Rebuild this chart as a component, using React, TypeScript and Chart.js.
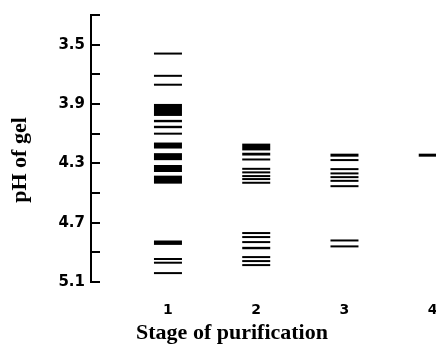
import React, { useEffect, useRef } from "react";
import { Chart, registerables } from "chart.js";

Chart.register(...registerables);

// ---- data ----
const stages = [1, 2, 3, 4];
const stageLabels = ["1", "2", "3", "4"];
const yTickValues = [3.3, 3.5, 3.7, 3.9, 4.1, 4.3, 4.5, 4.7, 4.9, 5.1];
const yLabeledTicks = [3.5, 3.9, 4.3, 4.7, 5.1];

// band positions (pH) and relative band intensity, per stage
const stage1Ph = [3.56, 3.71, 3.77, 3.94, 4.015, 4.055, 4.1, 4.18, 4.255, 4.335, 4.41, 4.835, 4.945, 4.97, 5.04];
const stage1Intensity = [1, 1, 1, 6, 1.2, 1.2, 1, 3, 3.5, 3.5, 4, 2.2, 1, 1, 1];

const stage2Ph = [4.19, 4.238, 4.274, 4.337, 4.361, 4.386, 4.406, 4.431, 4.77, 4.797, 4.831, 4.871, 4.932, 4.959, 4.986];
const stage2Intensity = [3.4, 1.4, 1, 1, 1, 1, 1, 1, 1, 1, 1, 1.2, 1, 1, 1];

const stage3Ph = [4.245, 4.278, 4.339, 4.368, 4.393, 4.418, 4.454, 4.82, 4.86];
const stage3Intensity = [1.5, 1, 1, 1, 1, 1, 1, 1, 1];

const stage4Ph = [4.245];
const stage4Intensity = [1.5];

const stagePh = [stage1Ph, stage2Ph, stage3Ph, stage4Ph];
const stageIntensity = [stage1Intensity, stage2Intensity, stage3Intensity, stage4Intensity];

const xTitle = "Stage of purification";
const yTitle = "pH of gel";

export default function App() {
  const canvasRef = useRef<HTMLCanvasElement | null>(null);

  useEffect(() => {
    const canvas = canvasRef.current;
    if (!canvas) return;

    const innerTicks = {
      id: "innerTicks",
      afterDraw(chart: any) {
        const ctx = chart.ctx;
        const ys = chart.scales.y;
        ctx.save();
        ctx.strokeStyle = "#000";
        ctx.lineWidth = 2;
        const x0 = chart.chartArea.left;
        for (const v of yTickValues) {
          const py = Math.round(ys.getPixelForValue(v));
          ctx.beginPath();
          ctx.moveTo(x0, py);
          ctx.lineTo(x0 + 9, py);
          ctx.stroke();
        }
        ctx.restore();
      },
    };

    const titles = {
      id: "titles",
      afterDraw(chart: any) {
        const ctx = chart.ctx;
        ctx.save();
        ctx.fillStyle = "#000";
        ctx.font = "bold 22px 'Liberation Serif'";
        ctx.textAlign = "center";
        ctx.textBaseline = "middle";
        ctx.fillText(xTitle, 232, 333);
        ctx.translate(20, 160);
        ctx.rotate(-Math.PI / 2);
        ctx.fillText(yTitle, 0, 0);
        ctx.restore();
      },
    };

    const chart = new Chart(canvas, {
      type: "scatter",
      data: {
        datasets: stages.map((s, i) => ({
          label: "Stage " + s,
          data: stagePh[i].map((p) => ({ x: s, y: p })),
          pointStyle: "line",
          pointRadius: 14,
          pointHoverRadius: 14,
          pointBorderColor: "#000",
          pointBackgroundColor: "#000",
          pointBorderWidth: stageIntensity[i].map((w) => w * 2),
          showLine: false,
          clip: false,
        })),
      },
      options: {
        animation: false,
        responsive: true,
        maintainAspectRatio: false,
        events: [],
        layout: { padding: { top: 15, left: 0, right: 0, bottom: 0 }, autoPadding: false },
        plugins: {
          legend: { display: false },
          tooltip: { enabled: false },
        },
        scales: {
          x: {
            type: "linear",
            min: 0.128,
            max: 4.037,
            grid: { display: false, drawTicks: false },
            border: { display: false },
            afterBuildTicks: (s: any) => {
              s.ticks = stages.map((v) => ({ value: v }));
            },
            afterFit: (s: any) => {
              s.height = 65;
              s.paddingLeft = 0;
              s.paddingRight = 0;
            },
            ticks: {
              autoSkip: false,
              maxRotation: 0,
              padding: 20,
              color: "#000",
              font: { family: "'DejaVu Sans'", size: 14, weight: "bold" },
              callback: (v: any) => {
                const i = stages.indexOf(Number(v));
                return i >= 0 ? stageLabels[i] : "";
              },
            },
          },
          y: {
            type: "linear",
            reverse: true,
            min: 3.3,
            max: 5.1,
            grid: { display: false, drawTicks: false },
            border: { display: true, color: "#000", width: 2 },
            afterBuildTicks: (s: any) => {
              s.ticks = yTickValues.map((v) => ({ value: v }));
            },
            afterFit: (s: any) => {
              s.width = 91;
              s.paddingTop = 0;
              s.paddingBottom = 0;
            },
            ticks: {
              autoSkip: false,
              padding: 6,
              color: "#000",
              font: { family: "'DejaVu Sans'", size: 15, weight: "bold" },
              callback: (v: any) => {
                const n = Number(v);
                return yLabeledTicks.some((t) => Math.abs(t - n) < 1e-6) ? n.toFixed(1) : "";
              },
            },
          },
        },
      },
      plugins: [innerTicks, titles],
    } as any);

    return () => chart.destroy();
  }, []);

  return (
    <div style={{ position: "absolute", left: 0, top: 0, width: 436, height: 347, background: "#fff" }}>
      <canvas ref={canvasRef} />
    </div>
  );
}
